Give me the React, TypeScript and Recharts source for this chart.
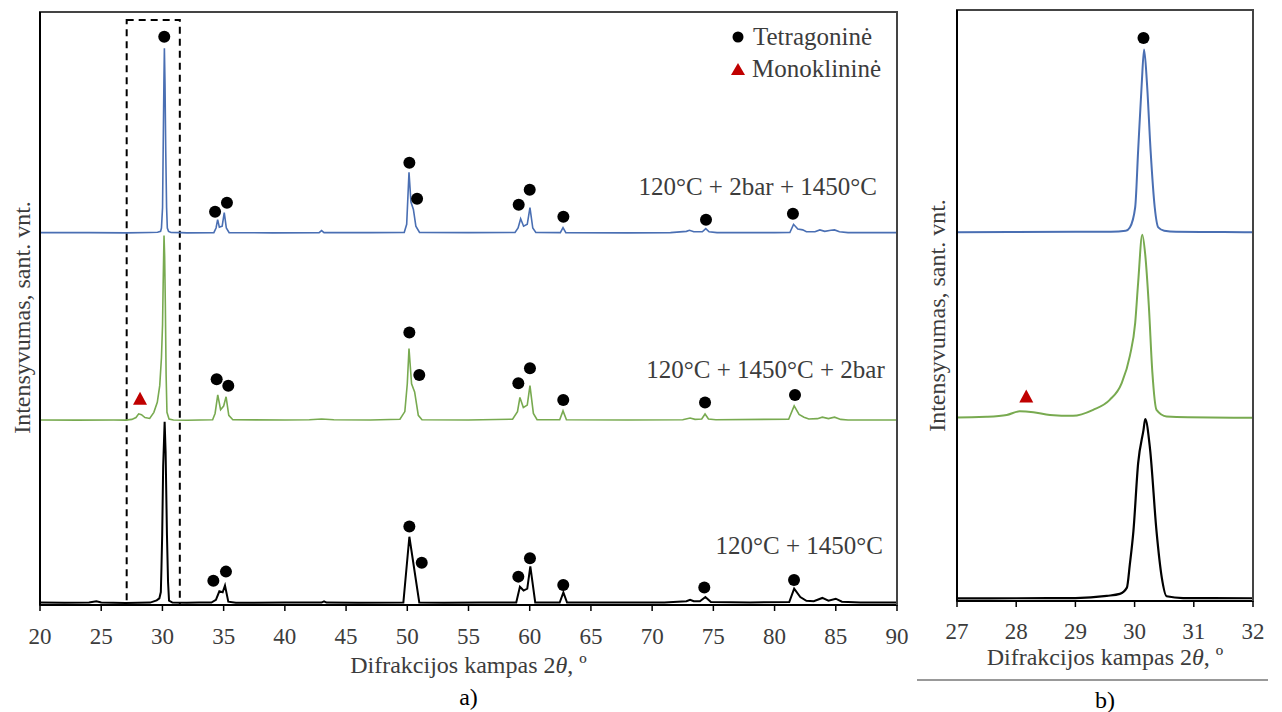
import React from 'react';
import {
  ComposedChart,
  Line,
  Scatter,
  XAxis,
  YAxis,
  ReferenceArea,
  ReferenceDot,
  Legend,
} from 'recharts';

const FONT = "'Liberation Serif', 'Times New Roman', serif";

// ---- XRD patterns: [2θ (deg), normalised intensity (main peak = 100)] ----
const blackPattern: [number, number][] = [
  [20, 0.6], [22, 0.4], [24, 0.5], [24.6, 1.2], [25, 0.5], [26, 0.4], [27, 0.3], [28, 0.4], [29, 0.5],
  [29.53, 1.7], [29.75, 2.8], [29.87, 6.2], [29.92, 19], [29.98, 37], [30.06, 74], [30.15, 92], [30.18, 98],
  [30.26, 82], [30.37, 37], [30.46, 11.5], [30.54, 1.5], [30.82, 0.5], [32, 0.4], [33, 0.5],
  [34.0, 0.5], [34.37, 2], [34.65, 6.6], [34.92, 6.1], [35.11, 9.7], [35.38, 1], [36, 0.4],
  [40, 0.5], [43, 0.5], [43.2, 1.2], [43.4, 0.5], [46, 0.4], [49.68, 0.6], [50.17, 36], [50.98, 0.6],
  [53, 0.4], [56, 0.5], [58.9, 0.6], [59.2, 9], [59.5, 7], [59.8, 8], [60.05, 20], [60.45, 0.6],
  [62.45, 0.5], [62.75, 6], [63.05, 0.5], [67, 0.5], [71, 0.6], [72.8, 1.2], [73.1, 2], [73.4, 1.2],
  [73.9, 1.2], [74.35, 3.5], [74.8, 0.8], [78, 0.6], [81.2, 0.8], [81.6, 8], [82.1, 3.5], [82.6, 1.5],
  [83.2, 1.2], [83.9, 3], [84.4, 1.5], [85.0, 2.6], [85.5, 1], [87, 0.6], [90, 0.6],
];

const greenPattern: [number, number][] = [
  [20, 0.5], [23, 0.4], [26, 0.5], [27, 0.4], [27.5, 0.8], [27.84, 1.8], [28.06, 3.8], [28.29, 3.3],
  [28.57, 1.8], [28.96, 1.3], [29.3, 4.6], [29.58, 10], [29.78, 19], [29.92, 34], [30.01, 52], [30.06, 74],
  [30.13, 100], [30.18, 89], [30.24, 61.5], [30.3, 25], [30.37, 4.6], [30.54, 1], [30.9, 0.5], [32, 0.3],
  [34.1, 0.6], [34.3, 4], [34.52, 14], [34.75, 6], [35.0, 8], [35.2, 13], [35.42, 3], [35.75, 0.6],
  [40, 0.5], [42, 0.6], [43, 1], [44, 0.6], [47, 0.5], [49.4, 0.9], [49.8, 5], [50.0, 20], [50.14, 39],
  [50.35, 20], [50.6, 15.6], [50.9, 3], [51.2, 0.6], [55, 0.5], [58.6, 0.9], [59.0, 5], [59.2, 12.6],
  [59.48, 7.2], [59.8, 8.5], [60.02, 19], [60.3, 4], [60.6, 0.6], [62.45, 0.6], [62.72, 5.4], [63.0, 0.6],
  [68, 0.5], [72.5, 0.6], [73.1, 1.5], [73.5, 0.8], [74.05, 1], [74.32, 3.7], [74.6, 1], [75.2, 0.6],
  [81.15, 0.9], [81.6, 8.1], [82.0, 3.5], [82.4, 2], [82.8, 1], [83.5, 1.2], [83.9, 2], [84.4, 1.2],
  [84.9, 2], [85.4, 0.8], [86, 0.5], [90, 0.5],
];

const bluePattern: [number, number][] = [
  [20, 0.5], [24, 0.5], [27, 0.4], [29, 0.6], [29.6, 0.7], [29.85, 1.2], [29.92, 3], [30.01, 14],
  [30.06, 45], [30.12, 81], [30.16, 100], [30.21, 81], [30.27, 45], [30.34, 14], [30.4, 3], [30.5, 1.2],
  [30.7, 0.6], [31.5, 0.5], [32, 0.4], [34.2, 0.5], [34.38, 3], [34.51, 7.5], [34.65, 3.5], [34.88, 4],
  [35.05, 11.3], [35.22, 3], [35.45, 0.5], [39, 0.4], [42.8, 0.5], [43, 1.6], [43.2, 0.5], [47, 0.5],
  [49.75, 0.6], [49.95, 5], [50.14, 33], [50.3, 17], [50.5, 13], [50.7, 4], [51.0, 0.6], [55, 0.5],
  [58.8, 0.6], [59.05, 3], [59.26, 8], [59.5, 4], [59.8, 5], [60.02, 14], [60.25, 3], [60.5, 0.6],
  [62.5, 0.5], [62.72, 3.2], [62.95, 0.5], [68, 0.4], [71.5, 0.5], [72.8, 1.2], [73.05, 1.8], [73.4, 1],
  [74.1, 1], [74.38, 2.7], [74.65, 1], [75.3, 0.5], [80, 0.5], [81.25, 0.6], [81.55, 5], [81.9, 2.5],
  [82.3, 2], [82.6, 1], [83.3, 1], [83.7, 2], [84.1, 1.2], [84.6, 1.8], [84.9, 2], [85.3, 1], [86, 0.5],
  [90, 0.5],
];

// vertical stacking offsets of the three patterns
const offsetBlack = 0;
const offsetGreen = 98.5;
const offsetBlue = 199.5;

// ---- phase markers: [2θ, level above the pattern's baseline] ----
const blackTetragonal: [number, number][] = [
  [34.16, 12.3], [35.19, 17.2], [50.17, 41.5], [51.18, 22], [59.07, 14.5], [60.02, 24.4],
  [62.74, 10], [74.26, 8.7], [81.59, 12.7],
];
const greenTetragonal: [number, number][] = [
  [34.43, 22.5], [35.38, 18.9], [50.17, 47.6], [50.98, 24.8], [59.07, 20.3], [60.02, 28.4],
  [62.74, 11.3], [74.32, 9.9], [81.67, 14],
];
const blueTetragonal: [number, number][] = [
  [30.15, 106.2], [34.3, 11.8], [35.27, 16.6], [50.17, 38.2], [50.8, 18.8], [59.1, 15.6], [60.0, 23.7],
  [62.75, 9.1], [74.4, 7.5], [81.5, 10.7],
];
const greenMonoclinic: [number, number][] = [[28.17, 11.9]];

// ---- text ----
const sampleNames = ['120°C + 1450°C', '120°C + 1450°C + 2bar', '120°C + 2bar + 1450°C'];
// right end (2θ) and level above baseline of each sample caption
const sampleCaptionAngle = [88.86, 89.0, 88.36];
const sampleCaptionLevel = [26.7, 23.1, 20.8];
const phaseNames = ['Tetragoninė', 'Monoklininė'];
const xTitle = 'Difrakcijos kampas 2';
const yTitle = 'Intensyvumas, sant. vnt.';

const leftXDomain: [number, number] = [20, 90];
const rightXDomain: [number, number] = [27, 32];
const leftTicks = [20, 25, 30, 35, 40, 45, 50, 55, 60, 65, 70, 75, 80, 85, 90];
const rightTicks = [27, 28, 29, 30, 31, 32];
const dashedBoxAngles = [27.08, 31.42];
const dashedBoxTop = 314.7;

const leftYDomain: [number, number] = [-0.8, 319];
const rightYDomain: [number, number] = [-1.1, 321];

const toData = (p: [number, number][], off: number) => p.map(([x, y]) => ({ x, y: y + off }));
const inRange = (p: [number, number][], a: number, b: number) => p.filter(([x]) => x >= a && x <= b);

const BLUE = '#4a6fb3';
const GREEN = '#78aa50';
const RED = '#c00000';
const TEXT = '#3c3c3c';

const Circle = (props: any) => {
  const { cx, cy } = props;
  if (cx == null || cy == null) return null;
  return <circle cx={cx} cy={cy} r={6} fill="#000" />;
};
const Triangle = (props: any) => {
  const { cx, cy } = props;
  if (cx == null || cy == null) return null;
  return <polygon points={`${cx - 7},${cy + 6} ${cx + 7},${cy + 6} ${cx},${cy - 7}`} fill={RED} />;
};

const makeXTitle = (titleDy: number, panel: string, panelDy: number, rule?: [number, number, number]) =>
  (props: any) => {
    const { x, y, width } = props.viewBox;
    const cx = x + width / 2;
    return (
      <g>
        <text x={cx} y={y + titleDy} textAnchor="middle" style={{ fontFamily: FONT }} fontSize={24} fill={TEXT}>
          {xTitle}
          <tspan fontStyle="italic">θ</tspan>, º
        </text>
        {rule ? (
          <line x1={rule[0]} x2={rule[1]} y1={y + rule[2]} y2={y + rule[2]} stroke="#777" strokeWidth={1.5} />
        ) : null}
        <text x={cx} y={y + panelDy} textAnchor="middle" style={{ fontFamily: FONT }} fontSize={24} fill="#000">
          {panel}
        </text>
      </g>
    );
  };

const makeYTitle = (dx: number, dy: number) => (props: any) => {
  const { x, y, width, height } = props.viewBox;
  const cx = x + width - dx;
  const cy = y + height / 2 + dy;
  return (
    <text
      x={cx}
      y={cy}
      transform={`rotate(-90, ${cx}, ${cy})`}
      textAnchor="middle"
      dominantBaseline="central"
      style={{ fontFamily: FONT }}
      fontSize={24}
      fill={TEXT}
    >
      {yTitle}
    </text>
  );
};

const captionContent = (text: string) => (props: any) => {
  const { x, y } = props.viewBox;
  return (
    <text x={x} y={y} textAnchor="end" style={{ fontFamily: FONT }} fontSize={25} fill={TEXT}>
      {text}
    </text>
  );
};

const LegendBox = () => (
  <div style={{ fontFamily: FONT, fontSize: 25, color: TEXT, lineHeight: '32px', whiteSpace: 'nowrap' }}>
    <div style={{ display: 'flex', alignItems: 'center' }}>
      <svg width={14} height={14} style={{ marginRight: 8 }}>
        <circle cx={7} cy={7} r={5.5} fill="#000" />
      </svg>
      <span>{phaseNames[0]}</span>
    </div>
    <div style={{ display: 'flex', alignItems: 'center' }}>
      <svg width={14} height={14} style={{ marginRight: 7 }}>
        <polygon points="0,13 14,13 7,1" fill={RED} />
      </svg>
      <span>{phaseNames[1]}</span>
    </div>
  </div>
);

const tickStyle = { style: { fontFamily: FONT }, fontSize: 23, fill: TEXT };

function LeftPanel() {
  return (
    <ComposedChart width={910} height={712} margin={{ top: 0, right: 0, bottom: 67, left: 0 }} style={{ fontFamily: FONT }}>
      <XAxis
        dataKey="x"
        type="number"
        domain={leftXDomain}
        ticks={leftTicks}
        allowDataOverflow
        height={40}
        tickSize={6}
        tickMargin={17}
        tick={tickStyle}
        tickLine={{ stroke: '#000', strokeWidth: 1.5 }}
        axisLine={{ stroke: '#000', strokeWidth: 2 }}
        label={makeXTitle(68, 'a)', 100)}
      />
      <XAxis
        xAxisId="top"
        orientation="top"
        type="number"
        domain={leftXDomain}
        height={12}
        tick={false}
        tickLine={false}
        axisLine={{ stroke: '#444', strokeWidth: 2 }}
      />
      <YAxis
        type="number"
        domain={leftYDomain}
        allowDataOverflow
        width={40}
        tick={false}
        tickLine={false}
        axisLine={{ stroke: '#000', strokeWidth: 2 }}
        label={makeYTitle(18, 9)}
      />
      <YAxis
        yAxisId="right"
        orientation="right"
        type="number"
        domain={leftYDomain}
        width={13}
        tick={false}
        tickLine={false}
        axisLine={{ stroke: '#444', strokeWidth: 2 }}
      />
      <ReferenceArea
        x1={leftXDomain[0]}
        x2={leftXDomain[1]}
        y1={leftYDomain[0]}
        y2={leftYDomain[1]}
        fill="none"
        fillOpacity={0}
        stroke="#444"
        strokeWidth={2}
      />
      <ReferenceArea
        x1={dashedBoxAngles[0]}
        x2={dashedBoxAngles[1]}
        y1={leftYDomain[0]}
        y2={dashedBoxTop}
        fill="none"
        fillOpacity={0}
        stroke="#000"
        strokeWidth={2}
        strokeDasharray="7 5"
      />
      <Line data={toData(blackPattern, offsetBlack)} dataKey="y" type="linear" stroke="#000" strokeWidth={2} dot={false} isAnimationActive={false} />
      <Line data={toData(greenPattern, offsetGreen)} dataKey="y" type="linear" stroke={GREEN} strokeWidth={1.6} dot={false} isAnimationActive={false} />
      <Line data={toData(bluePattern, offsetBlue)} dataKey="y" type="linear" stroke={BLUE} strokeWidth={1.6} dot={false} isAnimationActive={false} />
      <Scatter data={toData(blackTetragonal, offsetBlack)} dataKey="y" shape={Circle} isAnimationActive={false} />
      <Scatter data={toData(greenTetragonal, offsetGreen)} dataKey="y" shape={Circle} isAnimationActive={false} />
      <Scatter data={toData(blueTetragonal, offsetBlue)} dataKey="y" shape={Circle} isAnimationActive={false} />
      <Scatter data={toData(greenMonoclinic, offsetGreen)} dataKey="y" shape={Triangle} isAnimationActive={false} />
      {[offsetBlack, offsetGreen, offsetBlue].map((off, i) => (
        <ReferenceDot
          key={sampleNames[i]}
          x={sampleCaptionAngle[i]}
          y={off + sampleCaptionLevel[i]}
          r={0}
          fill="none"
          stroke="none"
          label={captionContent(sampleNames[i])}
        />
      ))}
      <Legend
        layout="horizontal"
        verticalAlign="middle"
        align="center"
        content={LegendBox}
        wrapperStyle={{ top: 21, left: 731, width: 'auto', height: 'auto' }}
      />
    </ComposedChart>
  );
}

function RightPanel() {
  return (
    <ComposedChart width={382} height={712} margin={{ top: 0, right: 0, bottom: 71, left: 0 }} style={{ fontFamily: FONT }}>
      <XAxis
        dataKey="x"
        type="number"
        domain={rightXDomain}
        ticks={rightTicks}
        allowDataOverflow
        height={40}
        tickSize={6}
        tickMargin={16}
        tick={tickStyle}
        tickLine={{ stroke: '#000', strokeWidth: 1.5 }}
        axisLine={{ stroke: '#000', strokeWidth: 2 }}
        label={makeXTitle(64, 'b)', 107, [17, 368, 79])}
      />
      <XAxis
        xAxisId="top"
        orientation="top"
        type="number"
        domain={rightXDomain}
        height={10}
        tick={false}
        tickLine={false}
        axisLine={{ stroke: '#444', strokeWidth: 2 }}
      />
      <YAxis
        type="number"
        domain={rightYDomain}
        allowDataOverflow
        width={57}
        tick={false}
        tickLine={false}
        axisLine={{ stroke: '#000', strokeWidth: 2 }}
        label={makeYTitle(20, 10)}
      />
      <YAxis
        yAxisId="right"
        orientation="right"
        type="number"
        domain={rightYDomain}
        width={29}
        tick={false}
        tickLine={false}
        axisLine={{ stroke: '#444', strokeWidth: 2 }}
      />
      <ReferenceArea
        x1={rightXDomain[0]}
        x2={rightXDomain[1]}
        y1={rightYDomain[0]}
        y2={rightYDomain[1]}
        fill="none"
        fillOpacity={0}
        stroke="#444"
        strokeWidth={2}
      />
      <Line data={toData(inRange(blackPattern, 25, 34.2), offsetBlack)} dataKey="y" type="monotone" stroke="#000" strokeWidth={2.2} dot={false} isAnimationActive={false} />
      <Line data={toData(inRange(greenPattern, 25, 34.2), offsetGreen)} dataKey="y" type="monotone" stroke={GREEN} strokeWidth={2} dot={false} isAnimationActive={false} />
      <Line data={toData(inRange(bluePattern, 25, 34.2), offsetBlue)} dataKey="y" type="monotone" stroke={BLUE} strokeWidth={2} dot={false} isAnimationActive={false} />
      <Scatter data={toData(inRange(blueTetragonal, 27, 32), offsetBlue)} dataKey="y" shape={Circle} isAnimationActive={false} />
      <Scatter data={toData(inRange(greenMonoclinic, 27, 32), offsetGreen)} dataKey="y" shape={Triangle} isAnimationActive={false} />
    </ComposedChart>
  );
}

export default function App() {
  return (
    <div style={{ position: 'absolute', left: 0, top: 0, width: 1282, height: 712, background: '#fff', fontFamily: FONT }}>
      <div style={{ position: 'absolute', left: 0, top: 0 }}>
        <LeftPanel />
      </div>
      <div style={{ position: 'absolute', left: 900, top: 0 }}>
        <RightPanel />
      </div>
    </div>
  );
}
